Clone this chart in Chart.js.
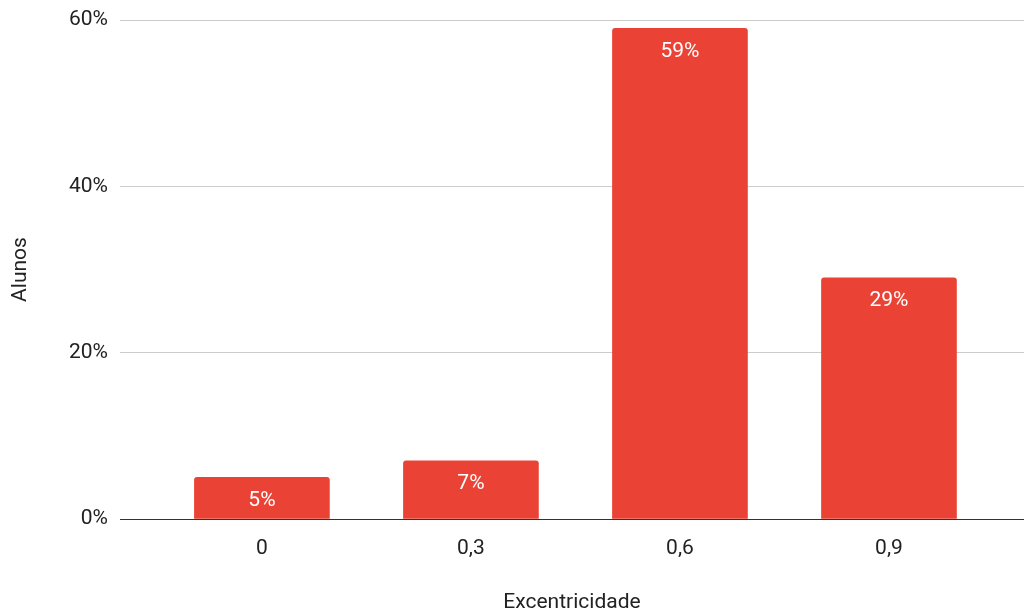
<!DOCTYPE html>
<html>
<head>
<meta charset="utf-8">
<script src="https://cdn.jsdelivr.net/npm/chart.js@4.4.1/dist/chart.umd.min.js"></script>
<style>
  html, body { margin: 0; padding: 0; background: #ffffff; }
  #wrap { width: 1024px; height: 612px; position: relative; }
</style>
</head>
<body>
<div id="wrap"><canvas id="chart"></canvas></div>
<script>
// Eccentricity categories and share of students (%)
const categories = ['0', '0,3', '0,6', '0,9'];
const shares = [5, 7, 59, 29];
const yTicks = [0, 20, 40, 60];

const FONT = 'Roboto, "Liberation Sans", Arial, sans-serif';
const BAR_RED = '#EA4335';

// Writes each value inside the top of its bar
const valueLabels = {
  id: 'valueLabels',
  afterDatasetsDraw(chart) {
    const ctx = chart.ctx;
    const meta = chart.getDatasetMeta(0);
    ctx.save();
    ctx.font = '21px ' + FONT;
    ctx.fillStyle = '#ffffff';
    ctx.textAlign = 'center';
    ctx.textBaseline = 'middle';
    meta.data.forEach((bar, i) => {
      ctx.fillText(shares[i] + '%', bar.x, bar.y + 23);
    });
    ctx.restore();
  }
};

new Chart(document.getElementById('chart'), {
  type: 'bar',
  data: {
    datasets: [{
      data: shares.map((v, i) => ({ x: i, y: v })),
      backgroundColor: BAR_RED,
      borderRadius: 3,
      borderSkipped: 'start',
      barThickness: 135
    }]
  },
  options: {
    responsive: true,
    maintainAspectRatio: false,
    animation: false,
    layout: { padding: { top: 20, right: 0, left: 0, bottom: 0 } },
    plugins: {
      legend: { display: false },
      tooltip: { enabled: false }
    },
    scales: {
      x: {
        type: 'linear',
        offset: false,
        min: -0.679,
        max: 3.646,
        afterBuildTicks(scale) {
          scale.ticks = categories.map((_, i) => ({ value: i }));
        },
        afterFit(scale) {
          scale.height = 93;
          scale.paddingLeft = 0;
          scale.paddingRight = 0;
        },
        grid: { display: false, drawTicks: false, offset: false },
        border: { display: false },
        ticks: {
          padding: 17,
          color: '#222222',
          font: { family: FONT, size: 21 },
          maxRotation: 0,
          autoSkip: false,
          callback: (v) => categories[v] ?? ''
        },
        title: {
          display: true,
          text: 'Excentricidade',
          color: '#222222',
          font: { family: FONT, size: 21 },
          padding: { top: 0, bottom: -3 }
        }
      },
      y: {
        min: 0,
        max: 60,
        afterBuildTicks(scale) {
          scale.ticks = yTicks.map(v => ({ value: v }));
        },
        afterFit(scale) {
          scale.width = 120;
          scale.paddingTop = 0;
          scale.paddingBottom = 0;
        },
        grid: {
          drawTicks: false,
          color: (c) => c.tick && c.tick.value === 0 ? '#333333' : '#cccccc',
          lineWidth: 1
        },
        border: { display: false },
        ticks: {
          padding: 12,
          color: '#222222',
          font: { family: FONT, size: 21 },
          callback: (v) => v + '%'
        },
        title: {
          display: true,
          text: 'Alunos',
          color: '#222222',
          font: { family: FONT, size: 21 },
          padding: { top: 8, bottom: 4 }
        }
      }
    }
  },
  plugins: [valueLabels]
});
</script>
</body>
</html>
